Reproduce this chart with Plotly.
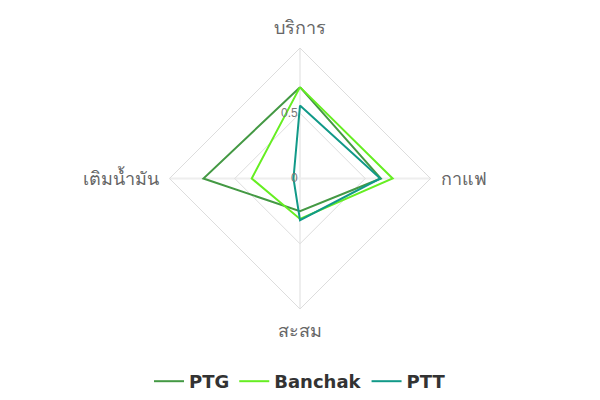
import plotly.graph_objects as go

categories = ["บริการ", "กาแฟ", "สะสม", "เติมน้ำมัน"]
series_names = ["PTG", "Banchak", "PTT"]
ptg = [0.70, 0.62, 0.25, 0.74]
banchak = [0.70, 0.71, 0.31, 0.37]
ptt = [0.56, 0.615, 0.32, 0.05]
colors = ["#449944", "#66ee22", "#119988"]
radial_ticks = [0, 0.5]
radial_ticktext = ["0", "0.5"]

fig = go.Figure()
for name, vals, col in zip(series_names, [ptg, banchak, ptt], colors):
    fig.add_trace(go.Scatterpolar(
        r=vals + vals[:1],
        theta=categories + categories[:1],
        mode="lines",
        name=f"<b>{name}</b>",
        line=dict(color=col, width=2),
    ))

fig.update_layout(
    width=600, height=400,
    margin=dict(l=0, r=0, t=48, b=89),
    paper_bgcolor="white",
    plot_bgcolor="white",
    font=dict(family="sans-serif", color="#666"),
    polar=dict(
        gridshape="linear",
        bgcolor="white",
        radialaxis=dict(
            range=[0, 1], tickvals=radial_ticks, ticktext=radial_ticktext,
            angle=90, tickangle=90, side="counterclockwise",
            showline=False, gridcolor="#dddddd", gridwidth=1,
            tickfont=dict(size=12, color="#777"), ticks="",
        ),
        angularaxis=dict(
            rotation=90, direction="clockwise",
            gridcolor="#eeeeee", gridwidth=2,
            linecolor="#dddddd", linewidth=1,
            ticks="outside", ticklen=6, tickcolor="rgba(0,0,0,0)",
            tickfont=dict(size=18, color="#666", family="sans-serif"),
        ),
    ),
    legend=dict(
        orientation="h", x=0.5, xanchor="center", y=-0.28, yanchor="middle",
        font=dict(size=18, color="#333", family="DejaVu Sans"),
        itemwidth=30,
    ),
)

fig.write_html("out.html")
